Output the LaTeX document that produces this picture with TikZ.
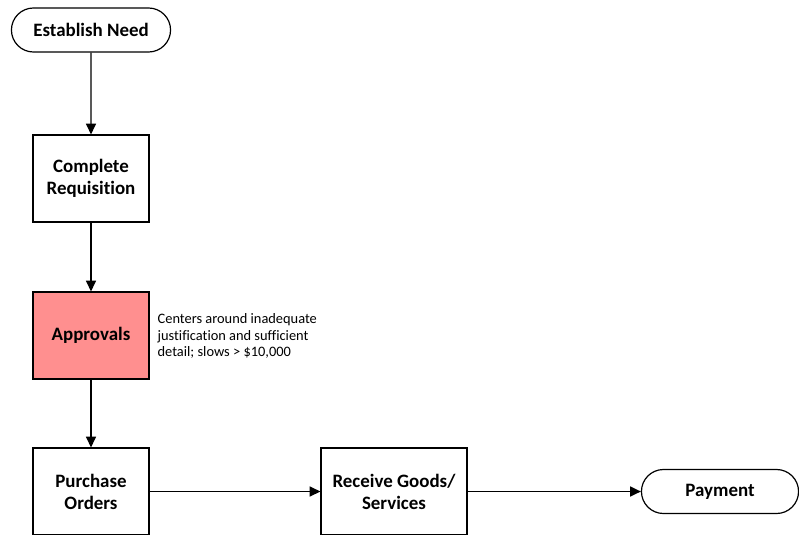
\documentclass[tikz,border=0pt]{standalone}
\usepackage{fontspec}
\setmainfont[RawFeature={-liga;-clig;-calt;-dlig}]{Carlito}
\usetikzlibrary{arrows.meta,positioning,shapes.misc}

\definecolor{hotspot}{RGB}{255,143,143}

\tikzset{
    terminal/.style={draw, rounded rectangle, line width=0.9pt, minimum height=33pt,
        font=\fontsize{14.2}{16.8}\selectfont\bfseries},
    process/.style={draw, rectangle, line width=0.9pt, align=center, minimum width=87pt,
        minimum height=65.25pt, font=\fontsize{14.2}{16.5}\selectfont\bfseries},
    note/.style={align=left, anchor=west, inner sep=0pt, font=\fontsize{10.8}{12.4}\selectfont},
}

\begin{document}
\begin{tikzpicture}[x=0.75pt, y=-0.75pt, line width=1pt,
    >={Triangle[length=8pt,width=7.5pt]}]
    \useasboundingbox (0,0) rectangle (799,535);
    \node[terminal, minimum width=126pt] at (91, 30) (need) {Establish Need};
    \node[process] at (91, 178.5) (req) {Complete\\Requisition};
    \node[process, fill=hotspot] at (91, 335.5) (appr) {Approvals};
    \node[process] at (91, 491.5) (po) {Purchase\\Orders};
    \node[process, minimum width=109.5pt] at (394, 491.5) (recv) {Receive Goods/\\Services};
    \node[terminal, minimum width=124.5pt] at (720, 491.5) (pay) {Payment};
    \node[note] at (157, 336) (slow) {Centers around inadequate\\justification and sufficient\\detail; slows > \$10,000};
    \draw[->]
    (need) edge (req)
    (req) edge (appr)
    (appr) edge (po)
    (po) edge (recv)
    (recv) edge (pay) ;
\end{tikzpicture}
\end{document}
